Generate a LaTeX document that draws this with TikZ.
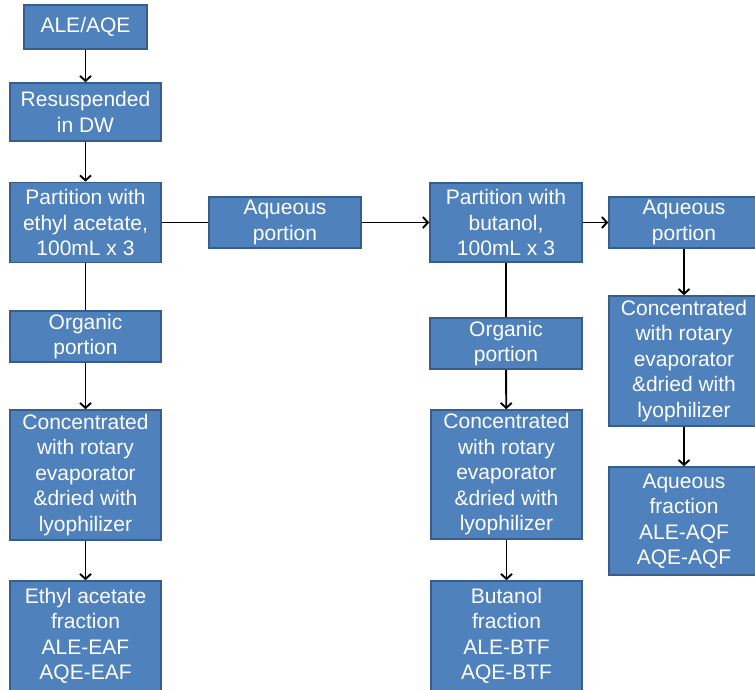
\documentclass[tikz,border=0pt]{standalone}
\usepackage{fontspec}
\setmainfont{Liberation Sans}
\usetikzlibrary{arrows.meta}
\definecolor{boxfill}{HTML}{4F81BD}
\definecolor{boxline}{HTML}{385D8A}
\begin{document}
\begin{tikzpicture}[x=1pt,y=-1pt,
  box/.style={draw=boxline,line width=1.6pt,fill=boxfill,text=white,align=center,
    inner sep=0pt,font=\fontsize{21}{25.5}\selectfont},
  conn/.style={line width=1.9pt,black},
  arr/.style={conn,-{Straight Barb[length=5pt,width=11pt,line width=1.9pt]}}]
\useasboundingbox (0,0) rectangle (755,689);
\clip (0,0) rectangle (755,689);
\fill[white] (0,0) rectangle (755,689);
% left column
\node[box,minimum width=123pt,minimum height=44pt] (ale) at (85.5,27) {ALE/AQE};
\node[box,minimum width=151pt,minimum height=58pt] (resus) at (85.5,112) {Resuspended\\in DW};
\node[box,minimum width=151pt,minimum height=80pt] (pea) at (85.5,222.5) {Partition with\\ethyl acetate,\\100mL x 3};
\node[box,minimum width=151pt,minimum height=51pt] (orgl) at (85.5,336.5) {Organic\\portion};
\node[box,minimum width=151pt,minimum height=130pt] (concl) at (85.5,475) {Concentrated\\with rotary\\evaporator\\\&dried with\\lyophilizer};
\node[box,minimum width=151pt,minimum height=110pt] (eaf) at (85.5,636) {Ethyl acetate\\fraction\\ALE-EAF\\AQE-EAF};
% middle
\node[box,minimum width=152pt,minimum height=51pt] (aqm) at (285,222.5) {Aqueous\\portion};
\node[box,minimum width=152pt,minimum height=79pt] (pbu) at (506,222.5) {Partition with\\butanol,\\100mL x 3};
\node[box,minimum width=152pt,minimum height=51pt] (orgm) at (506,343.5) {Organic\\portion};
\node[box,minimum width=151pt,minimum height=129pt] (concm) at (506.5,474.5) {Concentrated\\with rotary\\evaporator\\\&dried with\\lyophilizer};
\node[box,minimum width=151pt,minimum height=110pt] (btf) at (506.5,636) {Butanol\\fraction\\ALE-BTF\\AQE-BTF};
% right column
\node[box,minimum width=150pt,minimum height=51pt] (aqr) at (684,222.5) {Aqueous\\portion};
\node[box,minimum width=150pt,minimum height=130pt] (concr) at (684,361) {Concentrated\\with rotary\\evaporator\\\&dried with\\lyophilizer};
\node[box,minimum width=150pt,minimum height=108pt] (aqf) at (684,521) {Aqueous\\fraction\\ALE-AQF\\AQE-AQF};
% connectors
\draw[arr] (ale) -- (resus);
\draw[arr] (resus) -- (pea);
\draw[conn] (pea.east) -- (aqm.west);
\draw[arr] (aqm.east) -- (pbu.west);
\draw[arr] (pbu.east) -- (aqr.west);
\draw[conn] (pea) -- (orgl);
\draw[arr] (orgl) -- (concl);
\draw[arr] (concl) -- (eaf);
\draw[conn] (pbu) -- (orgm);
\draw[arr] (orgm) -- (concm);
\draw[arr] (concm) -- (btf);
\draw[arr] (aqr) -- (concr);
\draw[arr] (concr) -- (aqf);
\end{tikzpicture}
\end{document}
